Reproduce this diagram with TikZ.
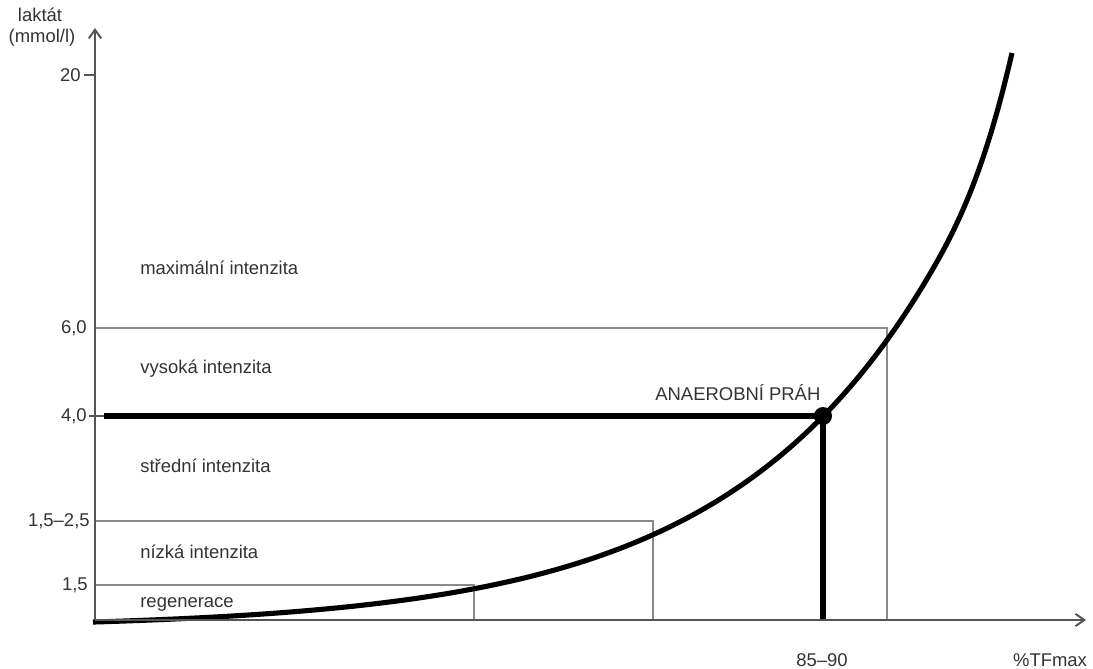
\documentclass[tikz,border=0pt]{standalone}
\usepackage{fontspec}
\setmainfont{Liberation Sans}
\usetikzlibrary{arrows.meta}
\definecolor{txt}{HTML}{333333}
\definecolor{axisc}{HTML}{555555}
\definecolor{thinc}{HTML}{8A8A8A}
\begin{document}
\begin{tikzpicture}[x=0.02cm,y=-0.02cm,
  lbl/.style={font=\fontsize{10.5pt}{12pt}\selectfont, text=txt, inner sep=0pt},
  axisline/.style={draw=axisc, line width=1.1pt},
  thinline/.style={draw=thinc, line width=0.8pt},
  boldline/.style={draw=black, line width=2.9pt},
  tip/.style={-{Straight Barb[length=5pt,width=7pt]}}]
\useasboundingbox (0,0) rectangle (1093,669);
% axes
\coordinate (O) at (95,620);
\coordinate (ytop) at (95,28);
\coordinate (xend) at (1086,620);
% regions
\draw[thinline] (96,328) -| (887,620);
\draw[thinline] (96,521) -| (653,620);
\draw[thinline] (96,585) -| (474,620);
% curve
\draw[boldline] plot[domain=93:1012, samples=200, smooth]
  (\x, {622 - (212*exp(0.0048*(\x-823)) - 6.375 + 90*pow(max(0,(\x-930)/100),3))});
% threshold
\coordinate (P) at (823,416);
\coordinate (Px) at (823,620);
\coordinate (Py) at (104,416);
\draw[boldline] (Py) -- (P);
\draw[boldline] (P) -- (Px);
\fill (P) circle (9);
\draw[axisline, tip] (O) -- (ytop);
\draw[axisline, tip] (O) -- (xend);
\draw[axisline] (84,75) -- (96,75);
\draw[axisline] (89,416) -- (104,416);
% tick labels
\node[lbl, anchor=east] (t20) at (81,75) {20};
\node[lbl, anchor=east] (t6) at (87,328) {6,0};
\node[lbl, anchor=east] (t4) at (87,416) {4,0};
\node[lbl, anchor=east] (t25) at (90,521) {1,5–2,5};
\node[lbl, anchor=east] (t15) at (88,585) {1,5};
% axis labels
\node[lbl] (ylab1) at (40,15) {laktát};
\node[lbl] (ylab2) at (42,38) {(mmol/l)};
\node[lbl] (x1) at (822,660) {85–90};
\node[lbl] (x2) at (1050,660) {\%TFmax};
% zone labels
\node[lbl, anchor=west] (z1) at (140,268) {maximální intenzita};
\node[lbl, anchor=west] (z2) at (140,369) {vysoká intenzita};
\node[lbl, anchor=west] (z3) at (140,466) {střední intenzita};
\node[lbl, anchor=west] (z4) at (140,552) {nízká intenzita};
\node[lbl, anchor=west] (z5) at (140,604) {regenerace};
\node[lbl, anchor=west] (ap) at (655,393) {ANAEROBNÍ PRÁH};
\end{tikzpicture}
\end{document}
